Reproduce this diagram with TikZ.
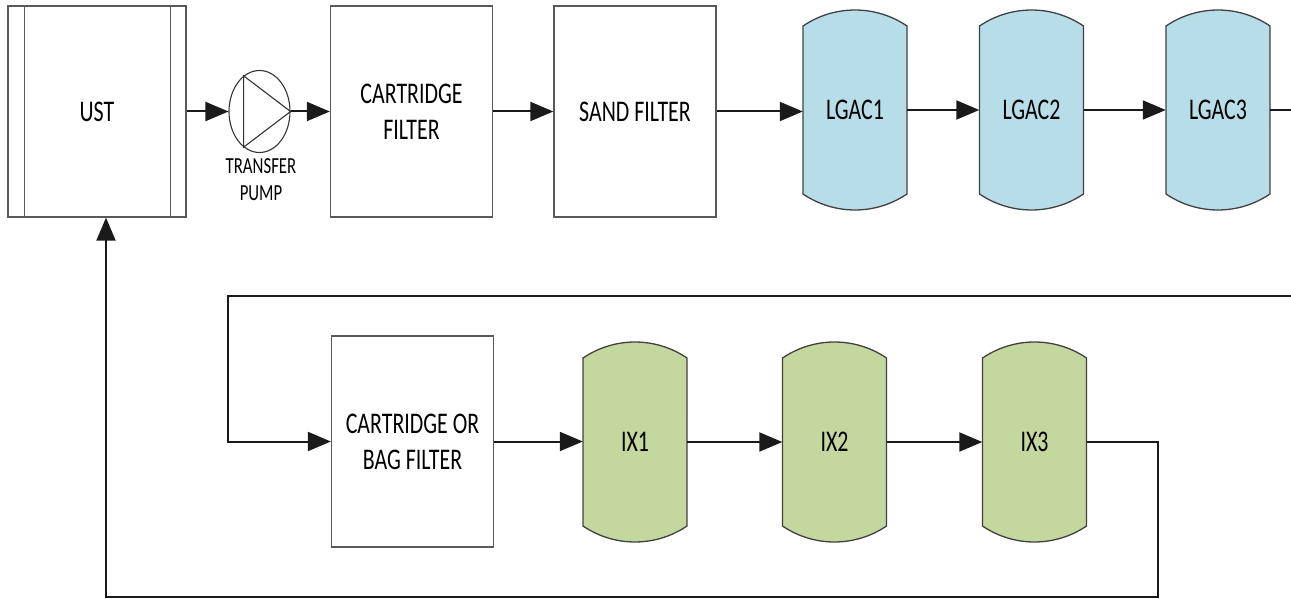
\documentclass[tikz,border=0pt]{standalone}
\usepackage{fontspec}
\setmainfont{Carlito}[FakeStretch=0.73]
\usetikzlibrary{arrows.meta,shapes.geometric,calc}
\definecolor{boxline}{HTML}{595959}
\definecolor{flowline}{HTML}{1A1A1A}
\definecolor{lgacfill}{HTML}{B7DDE8}
\definecolor{ixfill}{HTML}{C4D79F}
\newcommand\tankat[5]{% name, x, y, fill, label
  \draw[tankline, fill=#4] (#2-52,#3+84) -- (#2-52,#3-84)
    arc[start angle=235.8, end angle=304.2, radius=92.5]
    -- (#2+52,#3+84)
    arc[start angle=55.8, end angle=124.2, radius=92.5] -- cycle;
  \node[tanknode] (#1) at (#2,#3) {#5};}
\begin{document}
\begin{tikzpicture}[x=1pt,y=1pt,
  unitbox/.style={draw=boxline, line width=1.3pt, fill=white, minimum width=162pt,
    minimum height=211pt, inner sep=0pt, align=center, font=\fontsize{30}{36}\selectfont},
  tanknode/.style={minimum width=104pt, minimum height=168pt, inner sep=0pt,
    font=\fontsize{30}{36}\selectfont},
  tankline/.style={draw=black!75, line width=1.3pt},
  flow/.style={draw=flowline, line width=2pt, -{Triangle[length=23pt,width=19pt]}},
  pipe/.style={draw=flowline, line width=2pt},
  smalltext/.style={align=center, inner sep=0pt, font=\fontsize{23}{27}\selectfont},
]
\useasboundingbox (0,0) rectangle (1291,-599);

% UST
\node[unitbox, minimum width=178pt] (ust) at (97,-111.5) {UST};
\draw[boxline, line width=1.3pt] ($(ust.north west)+(17,0)$) -- ($(ust.south west)+(17,0)$);
\draw[boxline, line width=1.3pt] ($(ust.north east)+(-16,0)$) -- ($(ust.south east)+(-16,0)$);

% pump
\node[ellipse, draw=black!80, line width=1.1pt, minimum width=61pt, minimum height=82pt, inner sep=0pt] (pump) at (259.5,-111.5) {};
\draw[black!80, line width=1.1pt] (pump.114) -- (pump.246) -- (pump.east) -- cycle;
\node[smalltext] (pumplabel) at (261,-180) {TRANSFER\\PUMP};

% filters
\node[unitbox] (cart) at (411.5,-111.5) {CARTRIDGE\\FILTER};
\node[unitbox] (sand) at (635,-111.5) {SAND FILTER};
\node[unitbox] (bag) at (412.5,-441.5) {CARTRIDGE OR\\BAG FILTER};

% tanks
\tankat{lgac1}{855}{-110}{lgacfill}{LGAC1}
\tankat{lgac2}{1031.5}{-110}{lgacfill}{LGAC2}
\tankat{lgac3}{1218}{-110}{lgacfill}{LGAC3}
\tankat{ix1}{635}{-442}{ixfill}{IX1}
\tankat{ix2}{834.5}{-442}{ixfill}{IX2}
\tankat{ix3}{1034.5}{-442}{ixfill}{IX3}

% coordinates
\coordinate (lgacout) at (1291,-111);
\coordinate (topright) at (1291,-296);
\coordinate (topleft) at (227.5,-296);
\coordinate (ixdown) at (1158,-597);
\coordinate (ustup) at (106,-597);

% connectors top row
\draw[flow] (ust.east) -- (pump.west);
\draw[flow] (pump.east) -- (cart.west);
\draw[flow] (cart.east) -- (sand.west);
\draw[flow] (sand.east) -- (sand.east -| lgac1.west);
\draw[flow] (lgac1.east) -- (lgac2.west);
\draw[flow] (lgac2.east) -- (lgac3.west);
\draw[pipe] (lgac3.east) -- (lgac3.east -| lgacout);

% return and bottom row
\draw[flow] (topright) -- (topleft) |- (bag.west);
\draw[flow] (bag.east) -- (bag.east -| ix1.west);
\draw[flow] (ix1.east) -- (ix2.west);
\draw[flow] (ix2.east) -- (ix3.west);
\draw[flow] (ix3.east) -| (ixdown) -- (ustup) -- (ustup |- ust.south);
\end{tikzpicture}
\end{document}
